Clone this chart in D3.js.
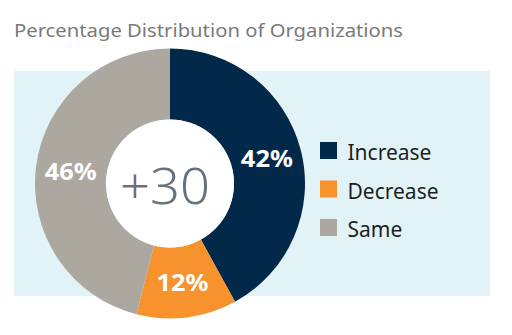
<!DOCTYPE html>
<html>
<head>
<meta charset="utf-8">
<script src="https://cdn.jsdelivr.net/npm/d3@7"></script>
<style>
  html, body { margin: 0; padding: 0; background: #ffffff; }
  svg { display: block; }
  text { font-family: "Noto Sans", "Open Sans", sans-serif; }
</style>
</head>
<body>
<svg id="chart" width="512" height="335"></svg>
<script>
const categories = ["Increase", "Decrease", "Same"];
const values = [42, 12, 46];
const valueLabels = ["42%", "12%", "46%"];
const centerLabel = "+30";
const titleText = "Percentage Distribution of Organizations";
const colors = ["#03294a", "#f7922c", "#aca89f"];

const svg = d3.select("#chart");
const cx = 170, cy = 183.5, rOuter = 135, rInner = 64;

// background panel
svg.append("rect")
  .attr("x", 14).attr("y", 71)
  .attr("width", 476).attr("height", 225)
  .attr("fill", "#e2f3f8");

// title
svg.append("text")
  .attr("x", 14).attr("y", 37)
  .attr("font-size", 18)
  .attr("fill", "#7a7a7a")
  .attr("textLength", 389)
  .attr("lengthAdjust", "spacingAndGlyphs")
  .text(titleText);

const color = d3.scaleOrdinal().domain(categories).range(colors);
const pie = d3.pie().sort(null).value(d => d.value);
const data = categories.map((c, i) => ({ cat: c, value: values[i], label: valueLabels[i] }));
const arcs = pie(data);

const arc = d3.arc().innerRadius(rInner).outerRadius(rOuter);
const labelArc = d3.arc().innerRadius(100).outerRadius(100);

const g = svg.append("g").attr("transform", `translate(${cx},${cy})`);

g.selectAll("path.slice")
  .data(arcs)
  .join("path")
  .attr("class", "slice")
  .attr("d", arc)
  .attr("fill", d => color(d.data.cat));

g.append("circle").attr("r", rInner).attr("fill", "#ffffff");

g.selectAll("text.val")
  .data(arcs)
  .join("text")
  .attr("class", "val")
  .attr("transform", d => {
    const [x, y] = labelArc.centroid(d);
    return `translate(${x},${y})`;
  })
  .attr("text-anchor", "middle")
  .attr("dy", "0.36em")
  .attr("font-size", 24)
  .attr("font-weight", 700)
  .attr("fill", "#ffffff")
  .attr("textLength", 52)
  .attr("lengthAdjust", "spacingAndGlyphs")
  .text(d => d.data.label);

g.append("text")
  .attr("x", -5).attr("y", 20)
  .attr("text-anchor", "middle")
  .attr("font-size", 49)
  .attr("font-weight", 300)
  .attr("fill", "#66737f")
  .attr("textLength", 90)
  .attr("lengthAdjust", "spacingAndGlyphs")
  .text(centerLabel);

// legend
const legend = svg.append("g").attr("transform", "translate(320,142)");
const leg = legend.selectAll("g")
  .data(categories)
  .join("g")
  .attr("transform", (d, i) => `translate(0,${i * 38.5})`);
leg.append("rect")
  .attr("width", 17).attr("height", 17)
  .attr("fill", d => color(d));
leg.append("text")
  .attr("x", 27.5).attr("y", 18)
  .attr("font-size", 21)
  .attr("fill", "#1e1e1e")
  .text(d => d);
</script>
</body>
</html>
